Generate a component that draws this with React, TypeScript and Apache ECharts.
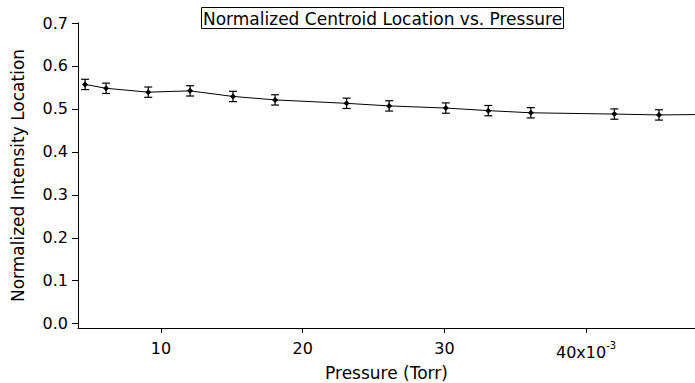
import React, { useEffect, useRef } from "react";
import * as echarts from "echarts";

const pressure = [4.64, 6.12, 9.1, 12.05, 15.08, 18.05, 23.1, 26.1, 30.1, 33.1, 36.1, 42.0, 45.15, 48.3];
const location = [0.557, 0.548, 0.539, 0.542, 0.529, 0.521, 0.513, 0.507, 0.502, 0.496, 0.491, 0.488, 0.486, 0.487];
const errors = [0.012, 0.012, 0.012, 0.012, 0.012, 0.012, 0.012, 0.012, 0.012, 0.012, 0.012, 0.012, 0.012, 0.012];
const yTicks = [0, 0.1, 0.2, 0.3, 0.4, 0.5, 0.6, 0.7];
const xTicks = [10, 20, 30, 40];
const titleText = "Normalized Centroid Location vs. Pressure";

const FONT = "DejaVu Sans";

export default function App() {
  const ref = useRef<HTMLDivElement>(null);
  useEffect(() => {
    document.body.style.margin = "0";
    const chart = echarts.init(ref.current!, null, { renderer: "svg" });
    const pts = pressure.map((p, i) => [p, location[i], errors[i]]);
    chart.setOption({
      animation: false,
      backgroundColor: "#fff",
      title: {
        text: titleText,
        left: 201,
        top: 7,
        borderColor: "#000",
        borderWidth: 1,
        padding: [3, 2, 2, 2],
        textStyle: { fontFamily: FONT, fontSize: 17, fontWeight: "normal", color: "#000" },
      },
      grid: { left: 78, right: 0, top: 23, bottom: 55, containLabel: false, outerBoundsMode: "none" },
      xAxis: {
        type: "value",
        min: 4.14,
        max: 47.69,
        name: "Pressure (Torr)",
        nameLocation: "middle",
        nameGap: 34,
        nameTextStyle: { fontFamily: FONT, fontSize: 17, color: "#000" },
        axisLine: { show: true, onZero: false, lineStyle: { color: "#000", width: 1 } },
        axisTick: { show: true, inside: false, length: 5, customValues: xTicks, lineStyle: { color: "#000" } },
        axisLabel: {
          customValues: xTicks,
          margin: 12,
          fontFamily: FONT,
          fontSize: 16,
          color: "#000",
          formatter: (v: number) => (v === 40 ? "{a|40x10}{b|-3}" : String(v)),
          rich: {
            a: { fontFamily: FONT, fontSize: 16, color: "#000" },
            b: { fontFamily: FONT, fontSize: 10, color: "#000", padding: [0, 0, 14, 0] },
          },
        },
        splitLine: { show: false },
      },
      yAxis: {
        type: "value",
        min: -0.01,
        max: 0.7,
        name: "Normalized Intensity Location",
        nameLocation: "middle",
        nameGap: 52,
        nameTextStyle: { fontFamily: FONT, fontSize: 17, color: "#000" },
        axisLine: { show: true, lineStyle: { color: "#000", width: 1 } },
        axisTick: { show: true, inside: false, length: 6, customValues: yTicks, lineStyle: { color: "#000" } },
        axisLabel: {
          customValues: yTicks,
          margin: 10,
          fontFamily: FONT,
          fontSize: 16,
          color: "#000",
          formatter: (v: number) => v.toFixed(1),
        },
        splitLine: { show: false },
      },
      series: [
        {
          type: "line",
          data: pts.map((d) => [d[0], d[1]]),
          showSymbol: false,
          symbol: "none",
          clip: true,
          lineStyle: { color: "#000", width: 1 },
        },
        {
          type: "custom",
          clip: true,
          data: pts,
          renderItem: (params: any, api: any) => {
            const x = api.value(0);
            const y = api.value(1);
            const e = api.value(2);
            const c = api.coord([x, y]);
            const hi = api.coord([x, y + e]);
            const lo = api.coord([x, y - e]);
            const cap = 4;
            const st = { stroke: "#000", lineWidth: 1.2 };
            return {
              type: "group",
              children: [
                { type: "line", shape: { x1: c[0], y1: hi[1], x2: c[0], y2: lo[1] }, style: st },
                { type: "line", shape: { x1: c[0] - cap, y1: hi[1], x2: c[0] + cap, y2: hi[1] }, style: st },
                { type: "line", shape: { x1: c[0] - cap, y1: lo[1], x2: c[0] + cap, y2: lo[1] }, style: st },
                {
                  type: "polygon",
                  shape: { points: [[c[0], c[1] - 3], [c[0] + 3, c[1]], [c[0], c[1] + 3], [c[0] - 3, c[1]]] },
                  style: { fill: "#000" },
                },
              ],
            };
          },
        },
      ],
    });
    return () => chart.dispose();
  }, []);
  return <div ref={ref} style={{ width: 695, height: 383 }} />;
}
